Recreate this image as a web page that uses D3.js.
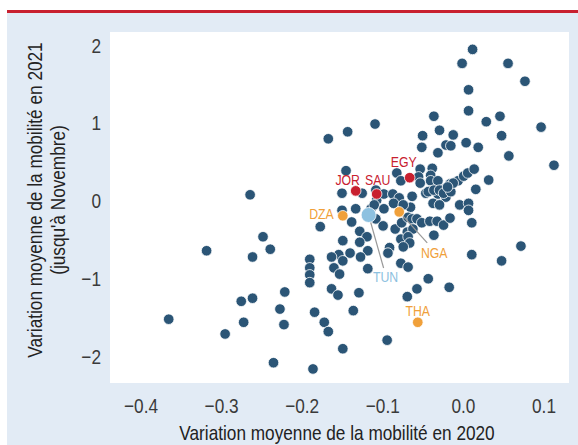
<!DOCTYPE html>
<html>
<head>
<meta charset="utf-8">
<script src="https://cdn.jsdelivr.net/npm/d3@7"></script>
<style>
  body { margin: 0; background: #fff; }
  text { font-family: "Liberation Sans", Arial, sans-serif; }
</style>
</head>
<body>
<div id="chart"></div>
<script>
// mobility change 2020 (x) vs 2021 up to November (y)
let xVals = [0.012,-0.001,0.056,0.077,0.007,0.007,-0.036,0.029,0.046,0.097,-0.029,0.048,-0.167,-0.143,-0.109,-0.050,-0.012,-0.021,-0.015,0.004,
  0.019,-0.051,-0.031,0.057,0.113,-0.145,-0.082,-0.077,-0.053,-0.038,-0.055,-0.053,-0.040,-0.040,-0.031,-0.024,-0.016,-0.006,0.001,0.006,
  0.014,0.032,0.016,-0.150,-0.125,-0.108,-0.107,-0.098,-0.087,-0.079,-0.063,-0.046,-0.041,-0.031,-0.021,-0.037,-0.029,-0.004,0.007,-0.133,
  -0.150,-0.065,-0.114,-0.108,-0.138,-0.177,-0.099,-0.084,-0.076,-0.068,-0.063,-0.057,-0.051,-0.041,-0.032,-0.024,-0.016,0.007,0.011,-0.128,
  -0.119,-0.128,-0.149,-0.069,-0.062,-0.077,-0.068,-0.066,-0.074,-0.036,-0.091,-0.093,-0.118,-0.127,-0.140,-0.154,-0.163,-0.149,-0.160,-0.153,
  -0.190,-0.190,-0.190,-0.190,-0.118,-0.077,-0.068,0.011,0.048,0.072,-0.043,-0.057,-0.069,-0.017,-0.163,-0.155,-0.129,-0.184,-0.136,-0.172,
  -0.167,-0.094,-0.149,-0.186,-0.264,-0.248,-0.239,-0.318,-0.261,-0.221,-0.275,-0.261,-0.227,-0.365,-0.272,-0.222,-0.295,-0.235,-0.110,-0.098,
  -0.079,-0.086,-0.074,-0.043,-0.036,-0.029,-0.024,-0.015,-0.012,-0.019];
let yVals = [1.95,1.77,1.77,1.54,1.43,1.16,1.09,1.02,1.09,0.95,0.91,0.84,0.80,0.89,0.99,0.84,0.85,0.72,0.71,0.75,
  0.69,0.69,0.62,0.58,0.46,0.39,0.36,0.26,0.41,0.42,0.31,0.23,0.33,0.26,0.26,0.15,0.22,0.26,0.32,0.36,
  0.41,0.27,0.15,0.10,0.10,0.14,0.01,0.09,0.09,0.00,0.06,0.10,0.13,0.09,0.05,-0.03,-0.05,-0.05,-0.03,-0.10,
  -0.12,-0.08,-0.10,-0.23,-0.27,-0.33,-0.32,-0.36,-0.28,-0.21,-0.23,-0.23,-0.28,-0.26,-0.26,-0.31,-0.22,-0.12,-0.28,-0.39,
  -0.46,-0.53,-0.51,-0.40,-0.36,-0.49,-0.46,-0.54,-0.59,-0.44,-0.60,-0.67,-0.64,-0.72,-0.67,-0.69,-0.72,-0.77,-0.86,-0.94,
  -0.75,-0.86,-0.95,-1.05,-0.87,-0.80,-0.85,-0.69,-0.77,-0.58,-1.00,-1.13,-1.23,-1.11,-1.13,-1.21,-1.18,-1.43,-1.41,-1.56,
  -1.68,-1.79,-1.90,-2.16,0.08,-0.46,-0.62,-0.64,-0.72,-1.17,-1.29,-1.25,-1.39,-1.52,-1.56,-1.59,-1.71,-2.08,-0.05,-0.10,
  0.04,-0.03,-0.05,0.12,0.14,0.14,0.10,0.12,0.23,0.18];

// highlighted countries
let hlCodes = ["JOR","SAU","EGY","DZA","NGA","THA","TUN"];
let hlX = [-0.133,-0.107,-0.066,-0.149,-0.079,-0.056,-0.117];
let hlY = [0.13,0.09,0.30,-0.19,-0.14,-1.56,-0.18];
let hlGroup = ["red","red","red","orange","orange","orange","blue"];

let xTicks = [-0.4,-0.3,-0.2,-0.1,0.0,0.1];
let yTicks = [-2,-1,0,1,2];

let colors = {dark: "#2b5576", red: "#c8202f", orange: "#f0a03a", blue: "#8dc1e0"};

let width = 578, height = 445;
let plot = {left: 110, right: 569, top: 32, bottom: 383};
let narrow = 0.82; // no narrow font installed, squeeze Liberation Sans instead

let x = d3.scaleLinear().domain([-0.4, 0.1]).range([140.5, 543.5]);
let y = d3.scaleLinear().domain([-2, 2]).range([356.5, 45.5]);

let svg = d3.select("#chart").append("svg")
    .attr("width", width)
    .attr("height", height);

svg.append("rect")
    .attr("x", 7).attr("y", 12)
    .attr("width", width - 7).attr("height", height - 12)
    .attr("fill", "#e2ebf5");

svg.append("line")
    .attr("x1", 7).attr("x2", width)
    .attr("y1", 11.5).attr("y2", 11.5)
    .attr("stroke", "#c8202f")
    .attr("stroke-width", 3);

svg.append("rect")
    .attr("x", plot.left).attr("y", plot.top)
    .attr("width", plot.right - plot.left)
    .attr("height", plot.bottom - plot.top)
    .attr("fill", "#fff");

// axes
let xAxis = d3.axisBottom(x).tickValues(xTicks).tickSize(0).tickPadding(0)
    .tickFormat(d => d3.format(".1f")(d).replace("-", "\u2212"));
let gx = svg.append("g").attr("transform", "translate(0,398)").call(xAxis);
gx.select(".domain").remove();
gx.selectAll("text").attr("font-size", 21).attr("fill", "#3a3a3a")
    .attr("font-family", "Liberation Sans, Arial, sans-serif")
    .attr("transform", `scale(${narrow},1)`);

let yAxis = d3.axisLeft(y).tickValues(yTicks).tickSize(0).tickPadding(0)
    .tickFormat(d => String(d).replace("-", "\u2212"));
let gy = svg.append("g").attr("transform", "translate(101,0)").call(yAxis);
gy.select(".domain").remove();
gy.selectAll("text").attr("font-size", 21).attr("fill", "#3a3a3a")
    .attr("font-family", "Liberation Sans, Arial, sans-serif")
    .attr("transform", `scale(${narrow},1)`);

// axis titles
svg.append("text")
    .attr("transform", `translate(337,440) scale(${narrow},1)`)
    .attr("text-anchor", "middle")
    .attr("font-size", 21).attr("fill", "#222")
    .text("Variation moyenne de la mobilité en 2020");

let yt = svg.append("g").attr("transform", "translate(0,200) rotate(-90)");
yt.append("text").attr("transform", `translate(0,42) scale(${narrow},1)`)
    .attr("text-anchor", "middle").attr("font-size", 21).attr("fill", "#222")
    .text("Variation moyenne de la mobilité en 2021");
yt.append("text").attr("transform", `translate(0,65) scale(${narrow},1)`)
    .attr("text-anchor", "middle").attr("font-size", 21).attr("fill", "#222")
    .text("(jusqu'à Novembre)");

// dots
let pts = xVals.map((v, i) => ({x: v, y: yVals[i]}));
svg.append("g").selectAll("circle")
    .data(pts)
    .join("circle")
    .attr("cx", d => x(d.x))
    .attr("cy", d => y(d.y))
    .attr("r", 5.3)
    .attr("fill", colors.dark)
    .attr("stroke", "#fff")
    .attr("stroke-width", 0.8);

let hl = hlCodes.map((c, i) => ({code: c, x: hlX[i], y: hlY[i], g: hlGroup[i]}));

// leader lines for TUN and NGA
let leaders = {TUN: [15, 53], NGA: [28, 31]};
svg.append("g").selectAll("line")
    .data(hl.filter(d => leaders[d.code]))
    .join("line")
    .attr("x1", d => x(d.x)).attr("y1", d => y(d.y))
    .attr("x2", d => x(d.x) + leaders[d.code][0])
    .attr("y2", d => y(d.y) + leaders[d.code][1])
    .attr("stroke", "#999").attr("stroke-width", 1.2);

svg.append("g").selectAll("circle")
    .data(hl)
    .join("circle")
    .attr("cx", d => x(d.x))
    .attr("cy", d => y(d.y))
    .attr("r", d => d.g == "blue" ? 7.5 : 5.3)
    .attr("fill", d => colors[d.g])
    .attr("stroke", "#fff")
    .attr("stroke-width", 0.8);

// labels
let labelPos = {
  JOR: [-8, -6, "middle"], SAU: [1, -9, "middle"], EGY: [-6, -11, "middle"],
  DZA: [-9, 3, "end"], NGA: [35, 46, "middle"], THA: [0, -6, "middle"], TUN: [17, 67, "middle"]
};
svg.append("g").selectAll("text")
    .data(hl)
    .join("text")
    .attr("transform", d => `translate(${x(d.x) + labelPos[d.code][0]},${y(d.y) + labelPos[d.code][1]}) scale(${narrow},1)`)
    .attr("text-anchor", d => labelPos[d.code][2])
    .attr("font-size", 15)
    .attr("fill", d => colors[d.g])
    .text(d => d.code);
</script>
</body>
</html>
